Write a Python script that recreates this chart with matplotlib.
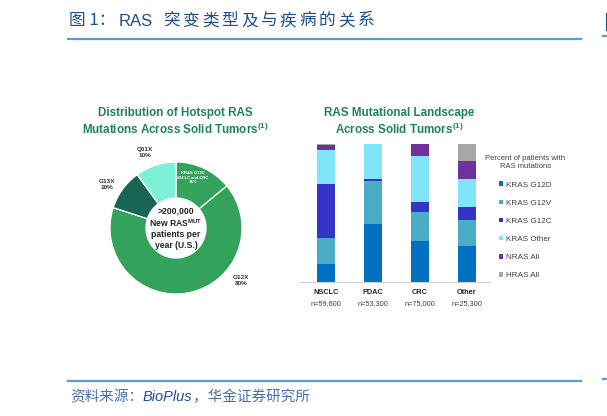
import matplotlib
matplotlib.use('Agg')
import matplotlib.pyplot as plt
import numpy as np

plt.rcParams['font.family'] = ['Liberation Sans', 'DejaVu Sans']
plt.rcParams['mathtext.fontset'] = 'custom'
plt.rcParams['mathtext.bf'] = 'Liberation Sans:bold'
plt.rcParams['mathtext.rm'] = 'Liberation Sans'

#%% Data
# donut: hotspot RAS mutations (G12C slice is part of G12X 80%)
donut_labels = ['KRAS G12C', 'G12X', 'G13X', 'Q61X']
donut_sizes = [14, 66, 10, 10]

# stacked bars: percent of patients with RAS mutations
tumors = ['NSCLC', 'PDAC', 'CRC', 'Other']
n_patients = ['n=59,600', 'n=53,300', 'n=75,000', 'n=25,300']
series = ['KRAS G12D', 'KRAS G12V', 'KRAS G12C', 'KRAS Other', 'NRAS All', 'HRAS All']
kras_g12d = [13, 42, 30, 26]
kras_g12v = [19, 31, 21, 19]
kras_g12c = [39, 2, 7, 9]
kras_other = [25, 25, 33, 21]
nras_all = [3, 0, 9, 13]
hras_all = [1, 0, 0, 12]

#%% Styles
W, H = 607, 416
green = '#33A35C'
title_green = '#1E8262'
donut_colors = [green, green, '#1A6455', '#7DF0D8']
bar_colors = ['#0070C0', '#4BACC6', '#3434C8', '#80E4FA', '#7030A0', '#A6A6A6']
hdr_blue = '#1F4E8C'
line_blue = '#5B9BD5'
cjk = ['Noto Sans CJK SC', 'DejaVu Sans']

fig = plt.figure(figsize=(W / 100, H / 100), dpi=100)

def fx(px):
    return px / W

def fy(py):
    return 1 - py / H

#%% Header / footer
fig.text(fx(69), fy(21), '图 1：', fontsize=12, color=hdr_blue, va='center', ha='left', family=cjk)
fig.text(fx(119), fy(21), 'RAS', fontsize=12, color=hdr_blue, va='center', ha='left',
         family=['Liberation Sans'])
# header characters are spaced out in the original
for i, ch in enumerate('突变类型及与疾病的关系'):
    fig.text(fx(163 + i * 19.5), fy(21), ch, fontsize=12, color=hdr_blue, va='center', ha='left',
             family=cjk)
fig.add_artist(plt.Line2D([fx(68), fx(581)], [fy(39), fy(39)], color=line_blue, lw=1.6))
fig.add_artist(plt.Line2D([fx(68), fx(581)], [fy(381), fy(381)], color=line_blue, lw=1.6))
fig.add_artist(plt.Line2D([fx(603), fx(607)], [fy(36), fy(36)], color=line_blue, lw=1.6))
fig.add_artist(plt.Line2D([fx(603), fx(607)], [fy(379), fy(379)], color=line_blue, lw=1.6))
fig.add_artist(plt.Line2D([fx(606.5), fx(606.5)], [fy(14), fy(30)], color=hdr_blue, lw=1.5))
fig.text(fx(70), fy(397), '资料来源：', fontsize=10.5, color='#4A6FB0', style='italic',
         va='center', ha='left', family=cjk)
fig.text(fx(143), fy(397), 'BioPlus', fontsize=10.5, color='#1F4E9C', style='italic',
         va='center', ha='left', family=['Liberation Sans'])
fig.text(fx(193), fy(397), '，华金证券研究所', fontsize=10.5, color='#4A6FB0', style='italic',
         va='center', ha='left', family=cjk)

#%% Donut chart
cx, cy, r = 176, 228, 66
ax1 = fig.add_axes([fx(cx - r), fy(cy + r), 2 * r / W, 2 * r / H])
ax1.pie(donut_sizes, colors=donut_colors, startangle=90, counterclock=False, radius=1,
        wedgeprops=dict(width=0.545, edgecolor='white', linewidth=0.9))
ax1.set_xlim(-1, 1)
ax1.set_ylim(-1, 1)
ax1.axis('off')

ax1.text(0, 0.0, '>200,000\nNew RAS$^{\\mathbf{MUT}}$\npatients per\nyear (U.S.)', ha='center', va='center',
         fontsize=6.2, fontweight='bold', color='#262626', linespacing=1.22)
lab_kw = dict(ha='center', va='center', fontsize=4.6, fontweight='bold', color='#333333',
              linespacing=1.25, clip_on=False)
ax1.text(-0.47, 1.15, 'Q61X\n10%', **lab_kw)
ax1.text(-1.05, 0.66, 'G13X\n10%', **lab_kw)
ax1.text(0.98, -0.80, 'G12X\n80%', **lab_kw)
ax1.text(0.25, 0.76, 'KRAS G12C\nNSCLC and CRC\n14%', ha='center', va='center', fontsize=3.0,
         fontweight='bold', color='white', linespacing=1.2)

fig.text(fx(175), fy(122), 'Distribution of Hotspot RAS\nMutations Across Solid Tumors$^{\\mathbf{(1)}}$',
         ha='center', va='center', fontsize=8.4, fontweight='bold', color=title_green,
         linespacing=1.15)

#%% Stacked bars
ax2 = fig.add_axes([fx(300), fy(282), fx(490) - fx(300), (282 - 144) / H])
x = np.arange(len(tumors))
bottom = np.zeros(len(tumors))
handles = []
for name, vals, col in zip(series, [kras_g12d, kras_g12v, kras_g12c, kras_other, nras_all, hras_all],
                           bar_colors):
    b = ax2.bar(x, vals, bottom=bottom, width=0.40, color=col, label=name)
    handles.append(b)
    bottom += np.array(vals)
ax2.set_xlim(-0.553, 3.49)
ax2.set_ylim(0, 100)
for s in ['top', 'right', 'left']:
    ax2.spines[s].set_visible(False)
ax2.spines['bottom'].set_color('#D0D0D0')
ax2.spines['bottom'].set_linewidth(0.8)
ax2.set_yticks([])
ax2.set_xticks([])
for i in range(len(tumors)):
    ax2.text(x[i], -7.5, tumors[i], ha='center', va='center',
             fontsize=5.3, fontweight='bold', color='#262626', clip_on=False)
    ax2.text(x[i], -15.5, n_patients[i], ha='center', va='center',
             fontsize=5.3, color='#404040', clip_on=False)

fig.text(fx(399), fy(122), 'RAS Mutational Landscape\nAcross Solid Tumors$^{\\mathbf{(1)}}$',
         ha='center', va='center', fontsize=8.4, fontweight='bold', color=title_green,
         linespacing=1.15)

leg = ax2.legend(handles=handles, labels=series, loc='upper left',
                 bbox_to_anchor=(fx(485), fy(155)), bbox_transform=fig.transFigure,
                 frameon=False, fontsize=5.9, title='Percent of patients with\nRAS mutations',
                 title_fontsize=5.5, handlelength=0.5, handleheight=0.5, handletextpad=0.3,
                 labelspacing=1.33, borderpad=0, borderaxespad=0)
for t in leg.get_texts():
    t.set_color('#404040')
leg.get_title().set_color('#404040')
leg.get_title().set_linespacing(1.3)
leg.get_title().set_multialignment('center')

fig.savefig('out.png', dpi=100)
